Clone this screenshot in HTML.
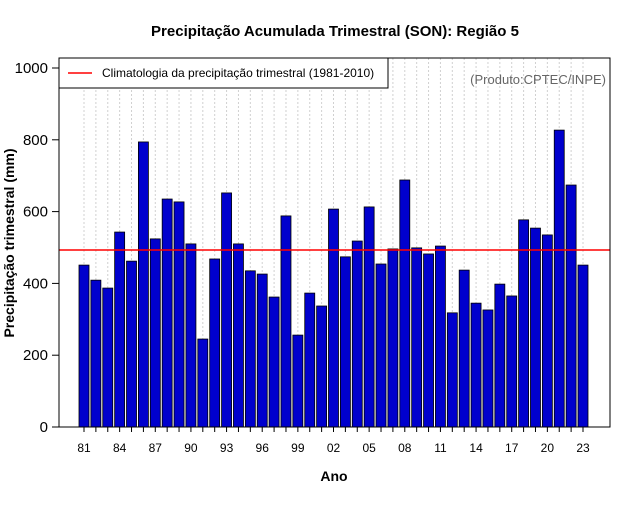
<!DOCTYPE html>
<html><head><meta charset="utf-8"><style>
body{margin:0;background:#fff;font-family:"Liberation Sans",sans-serif}
</style></head><body>
<svg id="c" width="640" height="500" xmlns="http://www.w3.org/2000/svg" font-family="Liberation Sans, sans-serif">
<text x="335" y="36" text-anchor="middle" font-size="15" font-weight="bold">Precipitação Acumulada Trimestral (SON): Região 5</text>
<text x="334" y="481" text-anchor="middle" font-size="14" font-weight="bold">Ano</text>
<text transform="translate(14,243) rotate(-90)" text-anchor="middle" font-size="14" font-weight="bold">Precipitação trimestral (mm)</text>
<g id="grid"></g><g id="bars"></g><g id="yt"></g><g id="xt"></g>
<line id="clim" x1="59" x2="610" stroke="#ff0000" stroke-width="1.5"/>
<rect x="59" y="58" width="551" height="369" fill="none" stroke="#000"/>
<g>
<rect x="59" y="58" width="329" height="30" fill="#fff" stroke="#000"/>
<line x1="68" x2="92" y1="73" y2="73" stroke="#ff0000" stroke-width="1.5"/>
<text x="102" y="77" font-size="12">Climatologia da precipitação trimestral (1981-2010)</text>
</g>
<text x="606" y="84" text-anchor="end" font-size="13" fill="#666">(Produto:CPTEC/INPE)</text>
</svg>
<script>
const years=[];for(let y=1981;y<=2023;y++)years.push(y);
const values=[451,409,387,543,462,794,524,635,627,510,245,468,652,510,435,426,362,588,256,373,337,607,474,518,613,454,496,688,499,482,504,318,437,345,326,398,365,577,554,535,827,674,451];
const climatology=493;
const yTicks=[0,200,400,600,800,1000];
const NS="http://www.w3.org/2000/svg";
const X=i=>84+i*(583-84)/42;
const Y=v=>427-v*(427-68)/1000;
function mk(t,a,p){const e=document.createElementNS(NS,t);for(const k in a)e.setAttribute(k,a[k]);document.getElementById(p).appendChild(e);return e;}
years.forEach((yr,i)=>{
 const g=mk('line',{x1:X(i),x2:X(i),y1:58,y2:427,stroke:'#d0d0d0','stroke-dasharray':'2,2'},'grid');
 
 
 const b=mk('rect',{x:X(i)-5,y:Y(values[i]),width:10,height:427-Y(values[i]),fill:'#0000cd',stroke:'#000','stroke-width':0.8},'bars');
 
 
 const t=mk('line',{x1:X(i),x2:X(i),y1:427,y2:432,stroke:'#000'},'xt');
 
 
 if(i%3===0){const l=mk('text',{x:X(i),y:452,'text-anchor':'middle','font-size':12},'xt');l.textContent=String(yr).slice(2);
 
 }
});
yTicks.forEach(v=>{
 const t=mk('line',{x1:52,x2:59,y1:Y(v),y2:Y(v),stroke:'#000'},'yt');
 
 
 const l=mk('text',{x:48,y:Y(v)+5,'text-anchor':'end','font-size':15},'yt');l.textContent=v;
 
 
});
const c=document.getElementById('clim');c.setAttribute('y1',Y(climatology));c.setAttribute('y2',Y(climatology));
</script>
</body></html>
